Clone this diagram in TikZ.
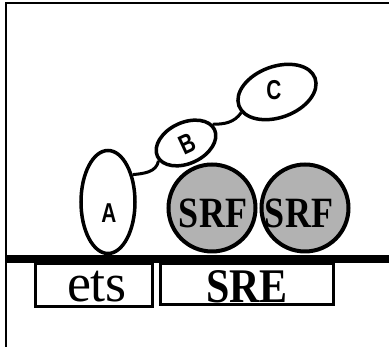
\documentclass[tikz,border=0pt]{standalone}
\usepackage{fontspec}
\setmainfont{Liberation Serif}
\setsansfont{Liberation Sans}
\usetikzlibrary{shapes.geometric}
\definecolor{srfgray}{gray}{0.7}
\tikzset{
  prot/.style={ellipse, draw=black, line width=3.5pt, fill=white, inner sep=0pt},
  srf/.style={circle, draw=black, line width=4pt, fill=srfgray, inner sep=0pt, minimum size=87pt},
  link/.style={draw=black, line width=3pt},
  boxline/.style={draw=black, line width=3pt},
  plabel/.style={font=\sffamily\bfseries\fontsize{26}{26}\selectfont, inner sep=0pt},
  srflabel/.style={font=\bfseries\fontsize{36}{36}\selectfont, inner sep=0pt},
  dnalabel/.style={inner sep=0pt, anchor=base}
}
\begin{document}
\begin{tikzpicture}[x=1pt,y=1pt]
\useasboundingbox (0,0) rectangle (389,347);
% frame
\draw[line width=1.5pt] (6,0) -- (6,344) -- (389,344);
% DNA
\draw[line width=8pt] (6,88) -- (389,88);
% boxes
\draw[boxline] (35,40) rectangle (152,83);
\draw[boxline] (160,42) rectangle (333,83);
\node[dnalabel] (ets) at (97,45) {\fontsize{54}{54}\selectfont ets};
\node[dnalabel] (sre) at (247,44) {\scalebox{1}[1.15]{\bfseries\fontsize{42}{42}\selectfont SRE}};
% SRF dimers
\node[srf] (srf1) at (212,139) {};
\node[srf] (srf2) at (305,139) {};
\node[srflabel] (t1) at (213,134) {\scalebox{1}[1.2]{SRF}};
\node[srflabel] (t2) at (299,134) {\scalebox{1}[1.2]{SRF}};
% proteins
\node[prot, minimum width=54pt, minimum height=103pt] (A) at (108,145) {};
\node[prot, minimum width=63pt, minimum height=41pt, rotate=25] (B) at (186,204) {};
\node[prot, minimum width=81pt, minimum height=51pt, rotate=20] (C) at (277,255) {};
\node[plabel] (la) at (109,134) {\scalebox{0.8}[1.05]{A}};
\node[plabel, rotate=25] (lb) at (187,203) {\scalebox{0.8}[1.05]{B}};
\node[plabel] (lc) at (274,257) {\scalebox{0.8}[1.05]{C}};
% linkers
\draw[link] (A.48) to[out=5,in=-100] (B.188);
\draw[link] (B.10) to[out=0,in=235] (C.190);
\end{tikzpicture}
\end{document}
